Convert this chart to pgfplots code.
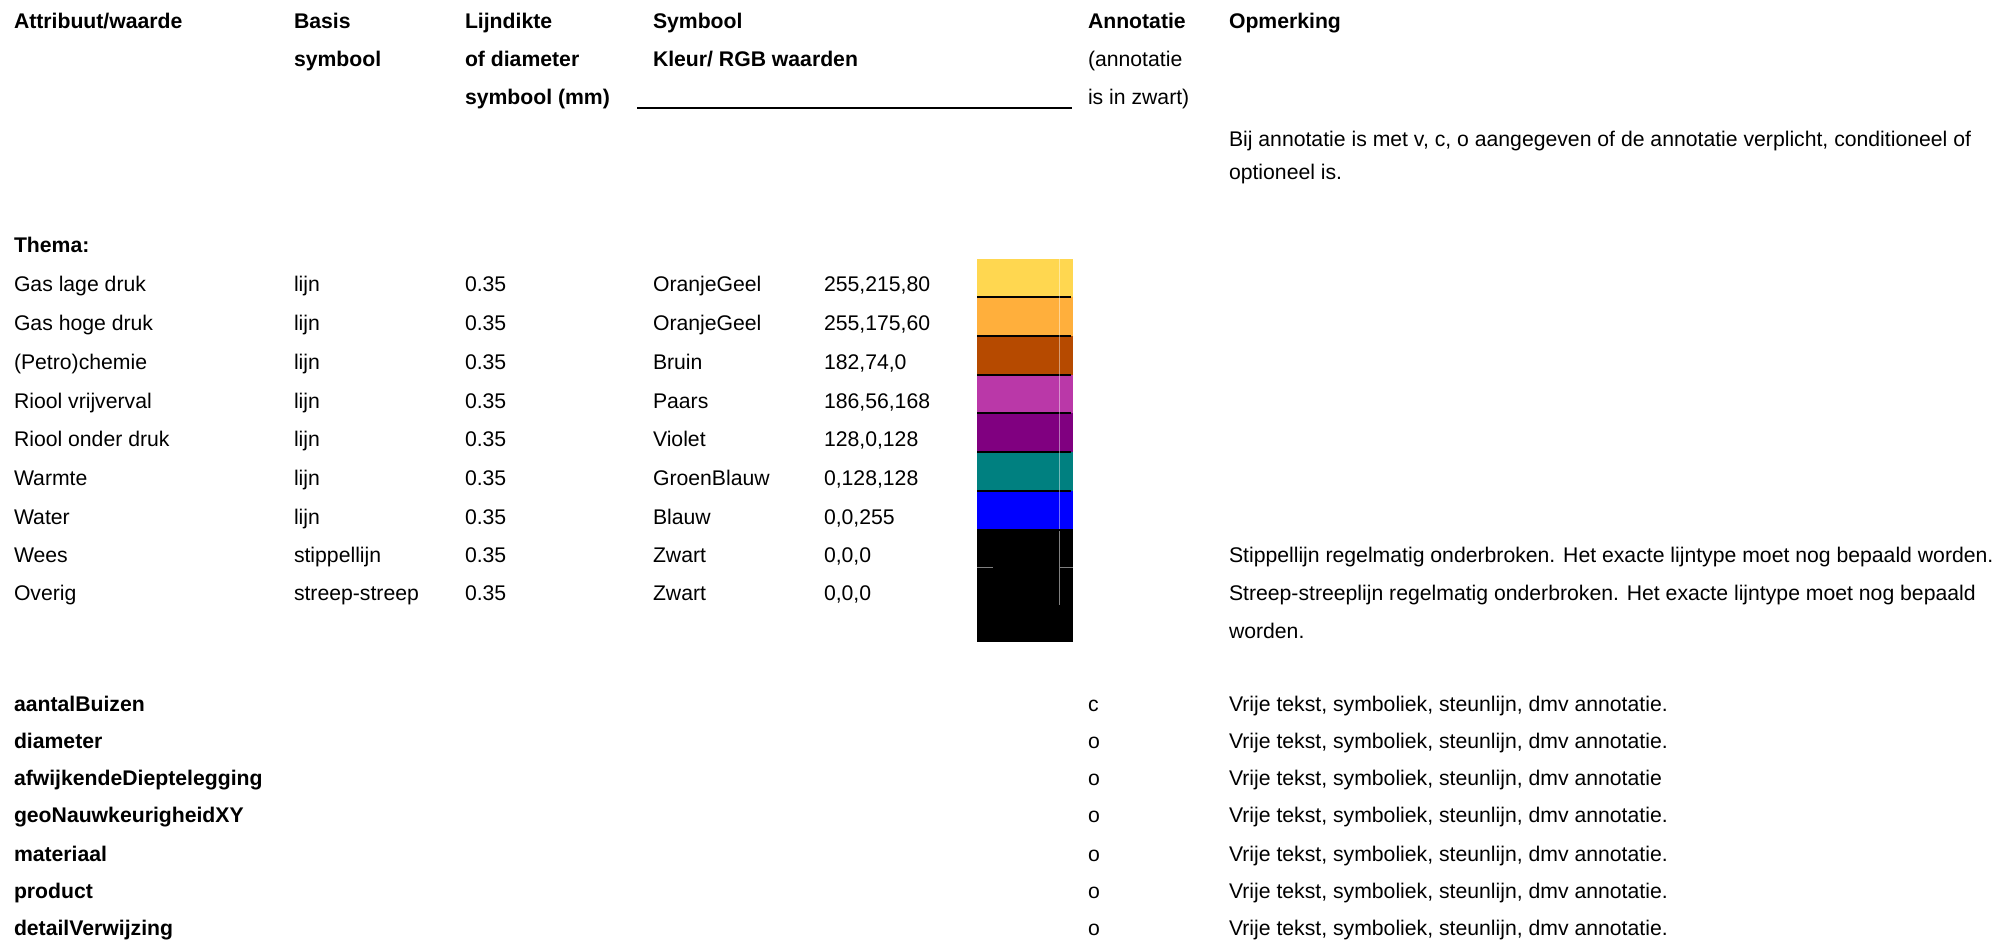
\documentclass[border=0pt]{standalone}
\usepackage{pgfplots}
\pgfplotsset{compat=1.18}
\usepackage{fontspec}
\setmainfont{Liberation Sans}
\definecolor{cGasLaag}{RGB}{255,215,80}
\definecolor{cGasHoog}{RGB}{255,175,60}
\definecolor{cBruin}{RGB}{182,74,0}
\definecolor{cPaars}{RGB}{186,56,168}
\definecolor{cViolet}{RGB}{128,0,128}
\definecolor{cGroenBlauw}{RGB}{0,128,128}
\definecolor{cBlauw}{RGB}{0,0,255}
\tikzset{
  T/.style={anchor=base west, inner sep=0pt, outer sep=0pt, font=\fontsize{10.6}{12}\selectfont},
  B/.style={anchor=base west, inner sep=0pt, outer sep=0pt, font=\fontsize{10.6}{12}\selectfont\bfseries},
}
\begin{document}
\begin{tikzpicture}
\begin{axis}[
  scale only axis, width=1000.5pt, height=470.5pt,
  xmin=0, xmax=2001, ymin=0, ymax=941, y dir=reverse,
  hide axis, clip=false,
]
% invisible frame so that the picture spans the whole area
\addplot[draw=none, forget plot] coordinates {(0,0) (2001,941)};
% colour swatches
\addplot[fill=cGasLaag, draw=none] coordinates {(977,259) (1073,259) (1073,297) (977,297)};
\addplot[fill=cGasHoog, draw=none] coordinates {(977,297) (1073,297) (1073,336) (977,336)};
\addplot[fill=cBruin, draw=none] coordinates {(977,336) (1073,336) (1073,375) (977,375)};
\addplot[fill=cPaars, draw=none] coordinates {(977,375) (1073,375) (1073,413) (977,413)};
\addplot[fill=cViolet, draw=none] coordinates {(977,413) (1073,413) (1073,452) (977,452)};
\addplot[fill=cGroenBlauw, draw=none] coordinates {(977,452) (1073,452) (1073,491) (977,491)};
\addplot[fill=cBlauw, draw=none] coordinates {(977,491) (1073,491) (1073,529) (977,529)};
\addplot[fill=black, draw=none] coordinates {(977,529) (1073,529) (1073,642) (977,642)};
% separators
\addplot[black, line width=1pt] coordinates {(977,297) (1071,297)};
\addplot[black, line width=1pt] coordinates {(977,336) (1071,336)};
\addplot[black, line width=1pt] coordinates {(977,375) (1071,375)};
\addplot[black, line width=1pt] coordinates {(977,413) (1071,413)};
\addplot[black, line width=1pt] coordinates {(977,452) (1071,452)};
\addplot[black, line width=1pt] coordinates {(977,491) (1071,491)};
% faint artefact lines
\addplot[white, opacity=0.45, line width=0.5pt] coordinates {(1059,259) (1059,529)};
\addplot[gray, line width=0.4pt] coordinates {(1059,531) (1059,605)};
\addplot[gray, line width=0.4pt] coordinates {(977,567) (993,567)};
\addplot[gray, line width=0.4pt] coordinates {(1059,567) (1073,567)};
% underline
\addplot[black, line width=1pt] coordinates {(637,108) (1072,108)};

% header
\node[B] at (axis cs:14,29) {Attribuut/waarde};
\node[B] at (axis cs:294,29) {Basis};
\node[B] at (axis cs:294,67) {symbool};
\node[B] at (axis cs:465,29) {Lijndikte};
\node[B] at (axis cs:465,67) {of diameter};
\node[B] at (axis cs:465,105) {symbool (mm)};
\node[B] at (axis cs:653,29) {Symbool};
\node[B] at (axis cs:653,67) {Kleur/ RGB waarden};
\node[B] at (axis cs:1088,29) {Annotatie};
\node[T] at (axis cs:1088,67) {(annotatie};
\node[T] at (axis cs:1088,105) {is in zwart)};
\node[B] at (axis cs:1229,29) {Opmerking};
\node[T] at (axis cs:1229,147) {Bij annotatie is met v, c, o aangegeven of de annotatie verplicht, conditioneel of};
\node[T] at (axis cs:1229,180) {optioneel is.};

\node[B] at (axis cs:14,253) {Thema:};
% rows
\node[T] at (axis cs:14,292) {Gas lage druk};
\node[T] at (axis cs:294,292) {lijn};
\node[T] at (axis cs:465,292) {0.35};
\node[T] at (axis cs:653,292) {OranjeGeel};
\node[T] at (axis cs:824,292) {255,215,80};

\node[T] at (axis cs:14,330) {Gas hoge druk};
\node[T] at (axis cs:294,330) {lijn};
\node[T] at (axis cs:465,330) {0.35};
\node[T] at (axis cs:653,330) {OranjeGeel};
\node[T] at (axis cs:824,330) {255,175,60};

\node[T] at (axis cs:14,369) {(Petro)chemie};
\node[T] at (axis cs:294,369) {lijn};
\node[T] at (axis cs:465,369) {0.35};
\node[T] at (axis cs:653,369) {Bruin};
\node[T] at (axis cs:824,369) {182,74,0};

\node[T] at (axis cs:14,408) {Riool vrijverval};
\node[T] at (axis cs:294,408) {lijn};
\node[T] at (axis cs:465,408) {0.35};
\node[T] at (axis cs:653,408) {Paars};
\node[T] at (axis cs:824,408) {186,56,168};

\node[T] at (axis cs:14,446) {Riool onder druk};
\node[T] at (axis cs:294,446) {lijn};
\node[T] at (axis cs:465,446) {0.35};
\node[T] at (axis cs:653,446) {Violet};
\node[T] at (axis cs:824,446) {128,0,128};

\node[T] at (axis cs:14,485) {Warmte};
\node[T] at (axis cs:294,485) {lijn};
\node[T] at (axis cs:465,485) {0.35};
\node[T] at (axis cs:653,485) {GroenBlauw};
\node[T] at (axis cs:824,485) {0,128,128};

\node[T] at (axis cs:14,524) {Water};
\node[T] at (axis cs:294,524) {lijn};
\node[T] at (axis cs:465,524) {0.35};
\node[T] at (axis cs:653,524) {Blauw};
\node[T] at (axis cs:824,524) {0,0,255};

\node[T] at (axis cs:14,562) {Wees};
\node[T] at (axis cs:294,562) {stippellijn};
\node[T] at (axis cs:465,562) {0.35};
\node[T] at (axis cs:653,562) {Zwart};
\node[T] at (axis cs:824,562) {0,0,0};
\node[T] at (axis cs:1229,562) {Stippellijn regelmatig onderbroken. Het exacte lijntype moet nog bepaald worden.};

\node[T] at (axis cs:14,600) {Overig};
\node[T] at (axis cs:294,600) {streep-streep};
\node[T] at (axis cs:465,600) {0.35};
\node[T] at (axis cs:653,600) {Zwart};
\node[T] at (axis cs:824,600) {0,0,0};
\node[T] at (axis cs:1229,600) {Streep-streeplijn regelmatig onderbroken. Het exacte lijntype moet nog bepaald};
\node[T] at (axis cs:1229,638) {worden.};

% attributes
\node[B] at (axis cs:14,711) {aantalBuizen};
\node[T] at (axis cs:1088,711) {c};
\node[T] at (axis cs:1229,711) {Vrije tekst, symboliek, steunlijn, dmv annotatie.};
\node[B] at (axis cs:14,748) {diameter};
\node[T] at (axis cs:1088,748) {o};
\node[T] at (axis cs:1229,748) {Vrije tekst, symboliek, steunlijn, dmv annotatie.};
\node[B] at (axis cs:14,785) {afwijkendeDieptelegging};
\node[T] at (axis cs:1088,785) {o};
\node[T] at (axis cs:1229,785) {Vrije tekst, symboliek, steunlijn, dmv annotatie};
\node[B] at (axis cs:14,822) {geoNauwkeurigheidXY};
\node[T] at (axis cs:1088,822) {o};
\node[T] at (axis cs:1229,822) {Vrije tekst, symboliek, steunlijn, dmv annotatie.};
\node[B] at (axis cs:14,861) {materiaal};
\node[T] at (axis cs:1088,861) {o};
\node[T] at (axis cs:1229,861) {Vrije tekst, symboliek, steunlijn, dmv annotatie.};
\node[B] at (axis cs:14,898) {product};
\node[T] at (axis cs:1088,898) {o};
\node[T] at (axis cs:1229,898) {Vrije tekst, symboliek, steunlijn, dmv annotatie.};
\node[B] at (axis cs:14,935) {detailVerwijzing};
\node[T] at (axis cs:1088,935) {o};
\node[T] at (axis cs:1229,935) {Vrije tekst, symboliek, steunlijn, dmv annotatie.};
\end{axis}
\end{tikzpicture}
\end{document}
